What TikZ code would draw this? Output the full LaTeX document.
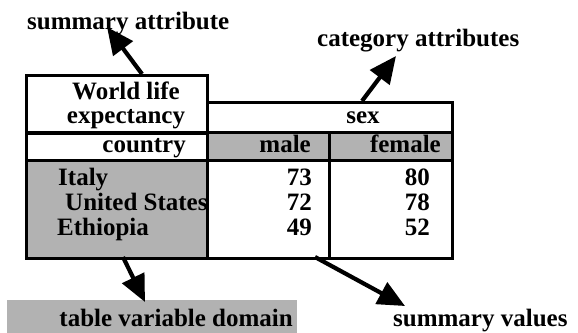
\documentclass[tikz,border=0pt]{standalone}
\usepackage{fontspec}
\setmainfont{Liberation Serif}
\usetikzlibrary{arrows.meta}
\tikzset{
  cell/.style={draw, line width=2.6pt, inner sep=0pt, anchor=north west},
  shade/.style={fill=black!30},
  lbl/.style={inner sep=0pt, font=\fontsize{25}{26}\selectfont\bfseries},
  bigarrow/.style={line width=4.2pt, -{Triangle[length=27pt,width=24pt]}},
}
\begin{document}
\begin{tikzpicture}[x=1pt,y=-1pt]
\useasboundingbox (0,0) rectangle (578,332);
% table cells
\node[cell, minimum width=181pt, minimum height=58pt] (world) at (25,74) {};
\node[cell, minimum width=245pt, minimum height=30pt] (sex) at (206,101) {};
\node[cell, minimum width=181pt, minimum height=28pt] (country) at (25,131) {};
\node[cell, shade, minimum width=122pt, minimum height=28pt] (male) at (206,131) {};
\node[cell, shade, minimum width=123pt, minimum height=28pt] (female) at (328,131) {};
\node[cell, shade, minimum width=181pt, minimum height=98pt] (domain) at (25,159) {};
\node[cell, minimum width=122pt, minimum height=98pt] (malevals) at (206,159) {};
\node[cell, minimum width=123pt, minimum height=98pt] (femalevals) at (328,159) {};
% table texts
\node[lbl, anchor=base] (t-world1) at (126,99) {World life};
\node[lbl, anchor=base] (t-world2) at (126,123) {expectancy};
\node[lbl, anchor=base east] (t-country) at (186,152) {country};
\node[lbl, anchor=base] (t-sex) at (363,123) {sex};
\node[lbl, anchor=base east] (t-male) at (311,152) {male};
\node[lbl, anchor=base east] (t-female) at (441,152) {female};
\node[lbl, anchor=base west] (c1) at (58,185) {Italy};
\node[lbl, anchor=base west] (c2) at (65,210) {United States};
\node[lbl, anchor=base west] (c3) at (57,235) {Ethiopia};
\node[lbl, anchor=base east] (m1) at (312,185) {73};
\node[lbl, anchor=base east] (m2) at (312,210) {72};
\node[lbl, anchor=base east] (m3) at (312,235) {49};
\node[lbl, anchor=base east] (f1) at (430,185) {80};
\node[lbl, anchor=base east] (f2) at (430,210) {78};
\node[lbl, anchor=base east] (f3) at (430,235) {52};
% shaded label box
\node[shade, inner sep=0pt, anchor=north west, minimum width=290pt, minimum height=34pt] (tvdbox) at (7,300) {};
% outside labels
\node[lbl, anchor=base west] (sumattr) at (27,29) {summary attribute};
\node[lbl, anchor=base west] (catattr) at (317,46) {category attributes};
\node[lbl, anchor=base east] (tvd) at (293,326) {table variable domain};
\node[lbl, anchor=base west] (sumval) at (393,326) {summary values};
% arrow ends
\coordinate (sa-from) at (142,74);
\coordinate (sa-to) at (107,27);
\coordinate (ca-from) at (362,101);
\coordinate (ca-to) at (396,56);
\coordinate (tv-from) at (123,257);
\coordinate (tv-to) at (145,302);
\coordinate (sv-from) at (315,257);
\coordinate (sv-to) at (405,306);
\draw[bigarrow] (sa-from) -- (sa-to);
\draw[bigarrow] (ca-from) -- (ca-to);
\draw[bigarrow] (tv-from) -- (tv-to);
\draw[bigarrow] (sv-from) -- (sv-to);
\end{tikzpicture}
\end{document}
